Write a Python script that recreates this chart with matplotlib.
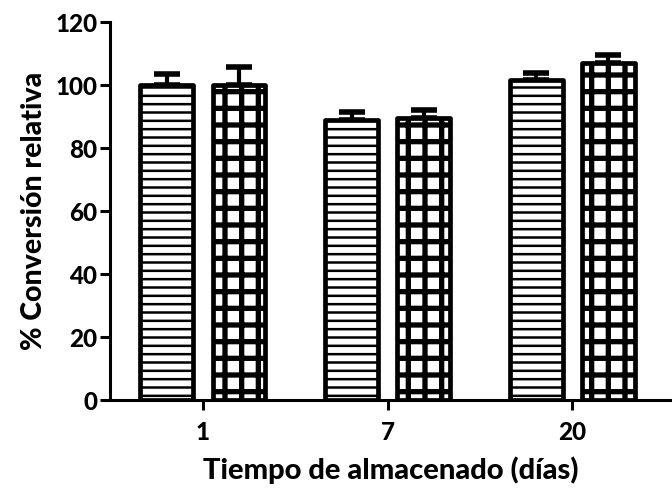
import matplotlib
matplotlib.use("Agg")
import matplotlib.pyplot as plt
import numpy as np

# storage time groups and relative conversion (%) for the two series
dias = ["1", "7", "20"]
serie_a = [100.0, 89.0, 101.5]
err_a = [3.5, 2.3, 2.3]
serie_b = [100.0, 89.5, 107.0]
err_b = [5.7, 2.6, 2.5]

FONT = "Lato"
WEIGHT = 900
plt.rcParams["font.family"] = [FONT, "DejaVu Sans"]
plt.rcParams["font.weight"] = WEIGHT

fig = plt.figure(figsize=(6.72, 4.93), dpi=100, facecolor="white")
ax = fig.add_axes([0.1637, 0.1886, 0.8363, 0.7667])

x = np.arange(len(dias))
width = 0.286
off = 0.195

# horizontal-stripe bars, then cross-hatched bars
bars_a = ax.bar(x - off, serie_a, width, facecolor="white", edgecolor="black",
                linewidth=3.4, hatch="--", zorder=3)
bars_b = ax.bar(x + off, serie_b, width, facecolor="white", edgecolor="black",
                linewidth=3.4, hatch="+", zorder=3)
for b in bars_a:
    b.set_joinstyle("round")
    if hasattr(b, "set_hatch_linewidth"):
        b.set_hatch_linewidth(1.8)
for b in bars_b:
    b.set_joinstyle("round")
    if hasattr(b, "set_hatch_linewidth"):
        b.set_hatch_linewidth(3.8)

# upper error bars only
for xs, ys, es in ((x - off, serie_a, err_a), (x + off, serie_b, err_b)):
    ax.errorbar(xs, ys, yerr=[np.zeros(len(es)), es], fmt="none",
                ecolor="black", elinewidth=3, capsize=9.5, capthick=4,
                zorder=2)

ax.set_ylim(0, 120)
ax.set_xlim(-0.503, 2.54)
ax.set_yticks(np.arange(0, 121, 20))
ax.set_xticks(x)
ax.set_xticklabels(dias)

for side in ("top", "right"):
    ax.spines[side].set_visible(False)
for side in ("left", "bottom"):
    ax.spines[side].set_linewidth(2.2)

ax.tick_params(axis="both", width=2.2, length=7, labelsize=17.5, pad=2)
ax.tick_params(axis="x", pad=8)
for lab in ax.get_xticklabels() + ax.get_yticklabels():
    lab.set_fontweight(WEIGHT)

ax.set_xlabel("Tiempo de almacenado (días)", fontsize=21, fontweight=WEIGHT,
              labelpad=9)
ax.set_ylabel("% Conversión relativa", fontsize=20.5, fontweight=WEIGHT,
              labelpad=6)

fig.savefig("out.png", dpi=100, facecolor="white")
